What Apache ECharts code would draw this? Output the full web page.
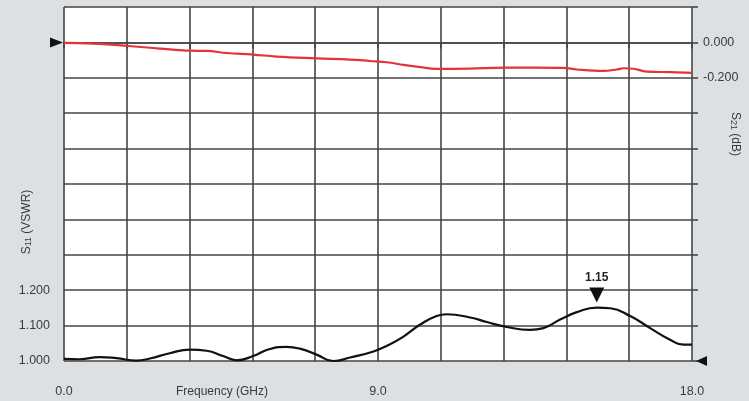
<!DOCTYPE html>
<html>
<head>
<meta charset="utf-8">
<script src="https://cdn.jsdelivr.net/npm/echarts@6/dist/echarts.min.js"></script>
<style>
html,body{margin:0;padding:0;background:#dde0e2;}
#chart{width:749px;height:401px;}
</style>
</head>
<body>
<div id="chart"></div>
<script>
// ---- data ----
var vswrFreq = [0, 0.45, 1.02, 1.50, 2.08, 2.46, 3.03, 3.61, 4.09, 4.56, 4.95, 5.42, 5.90, 6.38, 6.76, 7.24, 7.72, 8.20, 8.87, 9.30, 9.73, 10.21, 10.68, 10.97, 11.64, 12.12, 12.69, 13.36, 13.74, 14.22, 14.70, 15.27, 15.66, 16.23, 16.80, 17.37, 17.76, 18.0];
var vswrVal  = [1.006, 1.005, 1.011, 1.008, 1.001, 1.007, 1.022, 1.032, 1.029, 1.014, 1.002, 1.014, 1.034, 1.040, 1.035, 1.018, 1.000, 1.010, 1.027, 1.045, 1.069, 1.103, 1.127, 1.132, 1.123, 1.110, 1.096, 1.088, 1.093, 1.117, 1.138, 1.151, 1.149, 1.127, 1.093, 1.060, 1.046, 1.046];
var s21Freq = [0, 0.83, 1.79, 2.75, 3.61, 4.09, 4.66, 5.42, 6.09, 7.24, 8.20, 8.77, 9.25, 9.73, 10.21, 10.68, 11.64, 12.60, 13.55, 14.32, 14.70, 15.46, 15.85, 16.04, 16.32, 16.71, 17.37, 18.0];
var s21Val  = [-0.003, -0.007, -0.019, -0.035, -0.047, -0.048, -0.060, -0.069, -0.080, -0.090, -0.097, -0.105, -0.112, -0.127, -0.140, -0.150, -0.148, -0.142, -0.142, -0.144, -0.153, -0.161, -0.153, -0.146, -0.149, -0.165, -0.168, -0.172];
var peakFreq = 15.27, peakVal = 1.151, peakLabel = '1.15';
var xLabelValues = [0, 9, 18];
var leftLabelValues = [1.0, 1.1, 1.2];
var rightLabelValues = [0, -0.2];
var xName = 'Frequency (GHz)';
var leftName = ['S', '11', ' (VSWR)'];
var rightName = ['S', '21', ' (dB)'];

function pairs(xs, ys){ return xs.map(function(x,i){ return [x, ys[i]]; }); }
function inList(v, list){ for (var i=0;i<list.length;i++){ if (Math.abs(v-list[i])<1e-6) return true; } return false; }

var FONT = '"Liberation Sans Narrow", "Liberation Sans", sans-serif';
var TXT = '#3a3a3a';
var GRID = '#454545';
var richName = {
  n: { fontSize: 12, fontFamily: FONT, fill: TXT, color: TXT },
  s: { fontSize: 9, fontFamily: FONT, fill: TXT, color: TXT, padding: [4, 0, 0, 0] }
};
function richText(parts){ return '{n|' + parts[0] + '}{s|' + parts[1] + '}{n|' + parts[2] + '}'; }

var chart = echarts.init(document.getElementById('chart'));
chart.setOption({
  backgroundColor: '#dde0e2',
  animation: false,
  grid: { left: 64, right: 57, top: 7, bottom: 40, show: true, backgroundColor: '#ffffff', borderWidth: 0 },
  xAxis: {
    type: 'value', min: 0, max: 18, interval: 1.8,
    axisLine: { show: true, lineStyle: { color: GRID, width: 1.6 } },
    axisTick: { show: true, length: 6, lineStyle: { color: GRID, width: 1.6 } },
    splitLine: { show: true, lineStyle: { color: GRID, width: 1.6 } },
    axisLabel: {
      margin: 24, color: TXT, fontFamily: FONT, fontSize: 12.5, showMinLabel: true, showMaxLabel: true,
      formatter: function(v){ return inList(v, xLabelValues) ? (Math.round(v*10)/10).toFixed(1) : ''; }
    }
  },
  yAxis: [
    {
      type: 'value', min: 1, max: 2, interval: 0.1, position: 'left',
      axisLine: { show: false }, axisTick: { show: false },
      splitLine: { show: true, lineStyle: { color: GRID, width: 1.6 } },
      axisLabel: {
        margin: 14, color: TXT, fontFamily: FONT, fontSize: 12.5,
        formatter: function(v){ return inList(v, leftLabelValues) ? v.toFixed(3) : ''; }
      }
    },
    {
      type: 'value', min: -1.8, max: 0.2, interval: 0.2, position: 'right',
      axisLine: { show: false },
      axisTick: { show: true, length: 6, lineStyle: { color: GRID, width: 1.6 } },
      splitLine: { show: false },
      axisLabel: {
        margin: 11, color: TXT, fontFamily: FONT, fontSize: 12.5,
        formatter: function(v){ return inList(v, rightLabelValues) ? v.toFixed(3) : ''; }
      }
    }
  ],
  series: [
    {
      name: 'S21', type: 'line', yAxisIndex: 1, clip: false,
      data: pairs(s21Freq, s21Val), smooth: 0.4, showSymbol: false,
      lineStyle: { color: '#e5323b', width: 2.2 },
      markPoint: {
        silent: true,
        data: [{ coord: [0, 0], symbol: 'path://M0,0 L10,5 L0,10 Z', symbolSize: [13, 10], symbolOffset: [-7.5, 0],
                 itemStyle: { color: '#111' }, label: { show: false } }]
      }
    },
    {
      name: 'S11', type: 'line', yAxisIndex: 0, clip: false,
      data: pairs(vswrFreq, vswrVal), smooth: 0.5, showSymbol: false,
      lineStyle: { color: '#111111', width: 2.2 },
      markPoint: {
        silent: true,
        data: [
          { coord: [peakFreq, peakVal], symbol: 'path://M0,0 L10,0 L5,10 Z', symbolSize: [15, 15], symbolOffset: [0, -12.5],
            itemStyle: { color: '#111' },
            label: { show: true, position: 'top', distance: 4, formatter: peakLabel, color: '#222', fontWeight: 'bold', fontSize: 12, fontFamily: FONT } },
          { coord: [18, 1.0], symbol: 'path://M10,0 L0,5 L10,10 Z', symbolSize: [11, 10], symbolOffset: [9.5, 0],
            itemStyle: { color: '#111' }, label: { show: false } }
        ]
      }
    }
  ],
  graphic: [
    { type: 'text', x: 222, y: 392, style: { text: xName, fill: TXT, font: '12px ' + FONT, align: 'center', verticalAlign: 'middle' } },
    { type: 'text', x: 27, y: 222, rotation: Math.PI / 2, style: { text: richText(leftName), rich: richName, fill: TXT, align: 'center', verticalAlign: 'middle' } },
    { type: 'text', x: 735, y: 134, rotation: -Math.PI / 2, style: { text: richText(rightName), rich: richName, fill: TXT, align: 'center', verticalAlign: 'middle' } }
  ]
});
</script>
</body>
</html>
